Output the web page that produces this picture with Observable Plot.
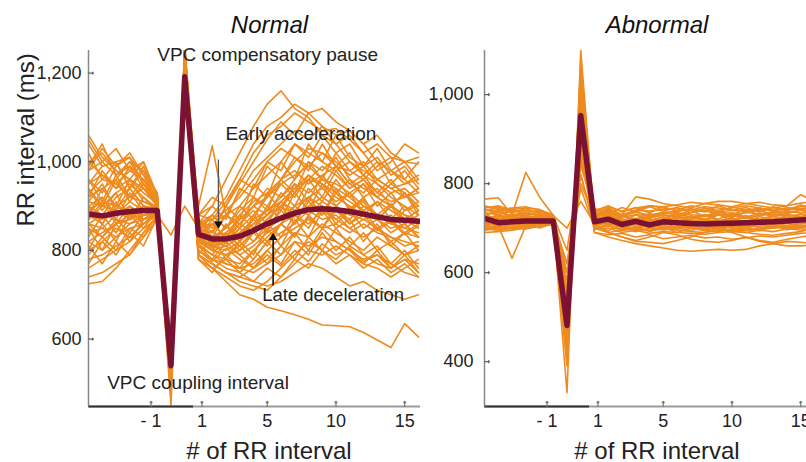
<!DOCTYPE html>
<html><head><meta charset="utf-8">
<script src="https://cdn.jsdelivr.net/npm/d3@7"></script>
<script src="https://cdn.jsdelivr.net/npm/@observablehq/plot@0.6"></script>
<style>
body{margin:0;background:#fff;}
#wrap{display:flex;width:806px;height:462px;overflow:hidden;}
</style></head><body><div id="wrap"></div>
<script>
// x position of each RR interval: 6 pre-VPC beats, VPC coupling, compensatory pause, 17 post beats
const beatIndex = [-7,-6,-5,-4,-3,-2,-1,0,1,2,3,4,5,6,7,8,9,10,11,12,13,14,15,16,17];
const tickPositions = [-2.45, 1.25, 6, 11, 16];
const tickLabels = ["- 1", "1", "5", "10", "15"];
const normalYTicks = [600, 800, 1000, 1200];
const abnormalYTicks = [400, 600, 800, 1000];

const normalMean = [882,878,884,888,890,890, 540, 1192, 836,826,826,832,845,860,873,884,892,894,892,888,882,876,870,868,866];
const abnormalMean = [722,712,714,716,716,716, 481, 953, 714,720,708,715,707,714,712,710,709,710,711,712,713,714,716,718,720];

const normalTraces = [
 [1060,1010,980,960,940,900, 520,1230, 880,900,960,1020,1080,1130,1160,1120,1100,1060,1040,1000,980,960,940,950,960],
 [980,1000,970,990,960,920, 560,1210, 860,880,920,980,1040,1080,1100,1130,1110,1120,1090,1070,1040,1000,980,960,1000],
 [950,990,1000,940,980,910, 540,1180, 850,840,880,930,980,1010,1040,1070,1050,1080,1060,1070,1040,1060,1020,1000,995],
 [900,920,880,910,890,870, 600,1150, 900,1036,880,860,840,870,900,940,960,990,970,940,960,930,910,920,940],
 [920,940,960,1000,980,930, 510,1260, 830,810,820,850,880,920,960,1000,1030,1020,990,980,960,990,1010,960,930],
 [880,860,900,920,910,895, 530,1200, 820,800,790,810,840,870,900,930,960,950,920,900,880,870,900,880,860],
 [860,880,870,860,880,890, 550,1190, 810,790,780,770,800,830,860,900,880,910,890,870,900,880,860,870,850],
 [840,850,830,860,870,885, 500,1220, 800,780,760,750,780,820,840,860,890,870,880,850,830,850,820,840,830],
 [820,800,830,850,860,880, 580,1170, 790,770,750,740,760,780,810,840,830,860,840,820,800,830,810,790,800],
 [760,780,800,820,850,870, 470,1240, 780,760,740,720,710,730,760,790,820,800,780,810,790,770,760,780,770],
 [725,730,760,800,840,880, 490,1210, 780,760,730,700,690,672,664,655,645,632,630,628,615,598,581,635,605],
 [1000,1020,980,960,1000,920, 530,1250, 870,850,900,950,1000,1050,1090,1060,1110,1080,1040,1060,1020,980,1000,1040,1020],
 [900,880,920,940,900,890, 520,1190, 840,820,830,860,900,940,920,960,1000,980,1010,960,940,920,950,930,900],
 [870,900,890,870,900,880, 560,1160, 830,810,800,820,850,880,910,890,920,940,910,930,900,880,860,890,900],
 [850,830,860,880,890,895, 540,1200, 820,800,790,800,820,850,870,900,920,900,870,890,910,870,880,850,870],
 [800,820,850,830,860,880, 510,1230, 800,780,770,760,770,800,830,850,870,850,860,840,860,840,830,810,820],
 [780,790,810,830,860,885, 450,1270, 790,770,750,730,720,710,740,770,800,790,810,790,770,760,740,760,780],
 [930,960,950,920,940,900, 570,1180, 850,860,880,900,940,970,1000,1040,1020,1000,980,1000,970,950,920,900,880],
 [960,930,990,1010,950,910, 500,1220, 860,870,890,920,960,1000,1030,1010,990,1020,1000,970,990,950,930,940,910],
 [890,910,900,880,870,890, 530,1200, 830,820,810,830,860,890,920,950,930,960,940,920,890,910,890,870,860],
 [880,870,890,880,880,880, 835,900, 850,830,820,840,860,880,900,880,900,920,900,880,870,880,860,850,840],
 [820,840,860,870,880,890, 560,1170, 810,790,770,760,750,770,790,820,810,830,820,800,780,790,770,750,740],
 [740,750,770,790,830,870, 520,1230, 790,770,750,740,730,720,730,750,770,760,740,720,730,710,700,690,700],
 [1040,990,1000,1010,970,930, 480,1260, 880,870,910,960,1020,1060,1080,1110,1090,1070,1075,1050,1020,1040,1010,1000,1010],
 [910,900,930,950,920,895, 550,1190, 840,830,850,880,910,930,960,980,950,970,990,950,930,960,940,920,930],
 [860,850,880,900,880,885, 590,1150, 820,800,810,790,810,840,860,880,860,890,870,850,870,850,830,820,810],
 [1000,970,950,980,960,910, 500,1240, 850,830,840,870,900,920,950,970,990,960,950,930,950,920,900,880,870],
 [950,970,940,960,930,905, 530,1210, 830,810,820,840,870,890,910,940,970,950,930,910,890,870,850,860,830],
 [1020,960,1000,940,990,920, 510,1240, 860,900,870,940,920,990,960,1010,980,1040,990,1020,970,1000,950,980,940],
 [880,940,900,960,910,900, 545,1200, 820,860,830,880,850,900,870,930,890,950,900,930,880,910,870,900,860],
 [940,890,930,870,920,885, 525,1215, 850,810,860,820,880,840,900,860,920,880,940,890,920,870,900,860,880],
 [800,860,820,880,850,890, 560,1180, 790,830,780,820,790,850,810,870,830,890,850,870,820,860,810,840,800],
 [990,1040,970,1000,950,915, 495,1255, 870,840,900,870,950,920,1000,960,1040,1000,1060,1010,990,1030,980,1000,960],
 [850,800,860,820,870,880, 575,1165, 810,780,820,790,760,800,770,820,790,840,800,830,790,810,770,800,760],
 [910,950,890,940,900,895, 535,1205, 830,870,820,860,890,860,910,880,940,910,960,920,950,900,930,890,910],
 [770,820,790,840,810,875, 505,1235, 780,750,790,760,800,770,810,780,830,800,850,810,840,800,820,790,810],
 [960,910,970,920,960,905, 545,1195, 840,880,850,900,870,930,890,950,910,970,930,960,920,940,900,930,890],
 [830,880,840,890,860,888, 520,1220, 815,790,830,800,840,810,860,830,880,850,900,860,890,850,870,840,860],
 [1050,1000,1030,980,1000,925, 490,1250, 880,920,900,960,940,1000,980,1040,1010,1060,1020,1040,990,1010,970,990,950],
 [870,910,860,900,870,885, 555,1185, 825,800,840,810,780,820,790,840,800,850,820,800,770,800,760,790,750],
 [900,860,910,870,900,892, 515,1225, 835,860,830,870,900,880,930,900,960,920,980,940,960,920,900,930,880],
 [810,770,820,790,840,878, 580,1160, 790,760,780,750,730,760,740,780,760,800,770,790,760,780,750,770,740],
 [980,1030,990,1020,970,912, 505,1245, 865,830,880,850,920,890,960,930,1000,960,1020,980,1000,960,980,950,970],
 [860,830,870,840,880,884, 540,1195, 820,845,815,850,820,860,830,880,850,900,860,890,850,870,840,860,830],
 [920,980,940,990,940,908, 530,1210, 845,815,855,830,870,845,890,860,910,880,930,895,915,880,905,870,890],
 [790,830,800,850,830,882, 565,1175, 800,775,805,780,760,790,765,800,775,815,790,805,775,790,760,780,750],
 [940,900,960,910,950,902, 520,1230, 848,880,850,890,920,900,950,920,970,940,990,950,970,930,960,920,940],
 [880,920,870,930,890,895, 500,1240, 828,805,835,810,845,820,860,835,875,850,890,860,880,845,865,835,855]
];

const abnormalTraces = [
 [740,745,720,725,720,715, 600,800, 725,740,730,770,765,755,750,745,755,760,760,755,750,745,750,775,760],
 [720,725,730,825,770,728, 650,850, 730,735,725,740,750,745,740,750,745,740,745,750,745,740,745,740,750],
 [710,705,632,705,712,715, 620,820, 700,705,695,700,710,705,700,695,700,705,700,695,700,705,700,695,700],
 [700,695,700,705,710,712, 560,880, 690,680,672,665,660,655,650,648,650,652,650,652,660,665,670,668,665],
 [705,700,710,705,715,720, 520,900, 700,690,680,672,680,690,685,675,670,668,672,680,670,665,660,660,662],
 [745,750,740,735,730,722, 450,1000, 725,730,720,715,725,730,725,735,740,730,725,735,740,730,735,740,735],
 [725,720,730,728,725,718, 400,1060, 720,725,715,720,715,720,730,725,720,730,735,725,720,728,730,725,740],
 [715,708,712,715,718,716, 330,1100, 712,718,705,712,705,712,710,708,706,708,710,712,710,712,715,718,722],
 [700,705,702,710,712,715, 480,950, 705,712,700,708,700,705,702,700,698,700,702,704,705,708,706,710,712],
 [735,730,738,740,735,720, 500,920, 735,745,730,740,738,742,745,740,748,745,740,738,745,740,742,748,752],
 [690,692,695,700,705,710, 440,980, 698,700,690,695,688,692,690,688,686,690,692,690,695,692,698,700,702],
 [710,715,708,712,720,718, 540,870, 715,722,710,718,710,715,718,715,712,715,718,716,718,720,722,720,725],
 [750,742,745,748,740,725, 580,840, 740,748,738,745,750,748,752,758,755,752,748,755,758,752,750,756,760],
 [695,700,698,702,708,712, 470,960, 690,685,688,680,685,676,680,684,678,680,675,678,682,680,684,688,690],
 [722,728,725,722,728,725, 420,1030, 728,732,725,730,728,732,735,730,728,732,730,735,732,736,738,734,738],
 [712,705,715,718,712,714, 510,930, 708,712,702,698,695,700,704,700,696,692,698,700,696,700,703,706,708],
 [765,768,730,735,740,730, 600,790, 700,690,680,670,668,665,672,680,690,700,690,680,672,668,675,680,685],
 [718,722,720,716,722,720, 460,1000, 720,728,716,722,716,720,722,718,714,716,720,722,718,720,724,722,728],
 [705,712,716,720,716,718, 560,860, 716,745,720,710,720,712,708,716,720,714,708,712,716,720,714,710,716],
 [730,735,728,732,730,722, 430,1040, 732,738,728,735,730,735,738,742,738,735,740,738,742,746,740,744,748],
 [698,695,700,698,704,708, 390,1070, 702,706,696,700,694,698,696,692,690,694,696,694,698,702,700,704,706],
 [740,738,742,745,742,728, 700,760, 710,690,695,700,705,708,712,710,706,700,695,690,686,684,688,692,700],
 [712,718,712,708,714,716, 620,820, 708,730,700,692,700,696,700,704,700,698,704,706,702,700,704,700,708],
 [726,720,724,726,720,719, 540,880, 722,718,726,720,724,730,726,722,726,730,728,724,728,732,728,730,734],
 [718,730,712,726,714,718, 490,940, 724,712,730,716,728,714,726,718,730,716,724,712,726,718,728,716,724],
 [732,716,728,712,724,717, 455,990, 712,728,714,730,716,726,712,728,716,730,718,728,714,726,716,732,720],
 [702,716,704,718,708,714, 525,910, 706,694,708,696,710,698,712,700,708,696,706,698,710,700,712,702,708],
 [744,730,742,728,738,724, 580,845, 738,750,736,746,734,748,738,744,736,750,740,746,736,748,740,752,744],
 [710,724,708,722,710,716, 415,1045, 718,706,720,708,722,710,718,706,720,710,722,708,718,712,720,714,722],
 [726,712,730,716,726,720, 475,965, 730,742,726,738,724,736,728,740,726,738,730,742,728,736,732,740,736],
 [694,706,698,710,700,710, 545,890, 696,708,694,704,692,702,690,700,694,704,692,700,694,706,696,702,700],
 [738,748,734,744,732,722, 505,925, 744,732,746,736,748,738,746,734,744,736,748,740,744,738,746,742,748],
 [716,706,720,710,718,716, 435,1010, 710,722,708,718,706,716,708,720,710,718,706,716,710,720,712,718,716],
 [728,740,724,736,726,721, 560,865, 726,716,730,720,732,722,734,724,730,720,732,724,734,726,730,724,732]
];

const ORANGE = "#ee8b1f", MAROON = "#7b1232";
const FONT = "'Liberation Sans', Arial, Helvetica, sans-serif";

function toRows(traces) {
  const rows = [];
  traces.forEach((t, i) => t.forEach((v, j) => rows.push({u: beatIndex[j], rr: v, id: i})));
  return rows;
}
const meanRows = m => m.map((v, j) => ({u: beatIndex[j], rr: v}));

function panel(cfg) {
  const xd = cfg.xDomain, yd = cfg.yDomain;
  const marks = [
    Plot.line(toRows(cfg.traces), {x: "u", y: "rr", z: "id", stroke: ORANGE, strokeWidth: 1.6, clip: true}),
    Plot.line(meanRows(cfg.mean), {x: "u", y: "rr", stroke: MAROON, strokeWidth: 5.5, strokeLinejoin: "round", clip: true}),
    // axis lines: full-width light baseline, darker first segment on top
    Plot.ruleY([yd[0]], {stroke: "#9c9c9c", strokeWidth: 1.8}),
    Plot.ruleX([xd[0]], {stroke: "#888", strokeWidth: 1.5}),
    Plot.link([0], {x1: () => xd[0], x2: () => 0.6, y1: () => yd[0], y2: () => yd[0], stroke: "#333", strokeWidth: 2}),
    // inward tick marks
    Plot.vector(tickPositions, {x: d => d, y: () => yd[0], length: 5, rotate: 0, anchor: "start", stroke: "#777", strokeWidth: 1.2}),
    Plot.vector(cfg.yTicks, {x: () => xd[0], y: d => d, length: 5, rotate: 90, anchor: "start", stroke: "#666", strokeWidth: 1.2}),
    Plot.axisY(cfg.yTicks, {label: null, tickSize: 0, tickPadding: cfg.yPad, tickFormat: d3.format(","), fontSize: 18}),
    Plot.axisX(tickPositions, {label: null, tickSize: 0, tickPadding: 8, tickFormat: d => tickLabels[tickPositions.indexOf(d)], fontSize: 18}),
    Plot.text([cfg.title], {text: d => d, frameAnchor: "top", dx: cfg.titleDx, dy: -18, lineAnchor: "bottom", fontSize: 24, fontStyle: "italic", fill: "#111"}),
    Plot.text(["# of RR interval"], {text: d => d, frameAnchor: "bottom", dx: cfg.xLabelDx, dy: 52, lineAnchor: "bottom", fontSize: 24, fill: "#222"})
  ];
  if (cfg.extra) marks.push(...cfg.extra);
  return Plot.plot({
    width: cfg.width, height: 462,
    marginLeft: cfg.marginLeft, marginRight: cfg.marginRight, marginTop: 50, marginBottom: 56,
    x: {domain: xd, label: null}, y: {domain: yd, label: null},
    style: {fontFamily: FONT, color: "#222", background: "white", overflow: "hidden"},
    marks
  });
}

const leftExtra = [
  Plot.text(["RR interval (ms)"], {text: d => d, frameAnchor: "left", dx: -55, dy: -2, rotate: -90, lineAnchor: "bottom", fontSize: 24, fill: "#222"}),
  Plot.text(["VPC compensatory pause"], {text: d => d, x: () => -2.0, y: () => 1227, textAnchor: "start", lineAnchor: "bottom", fontSize: 19, fill: "#222"}),
  Plot.text(["Early acceleration"], {text: d => d, x: () => 2.96, y: () => 1048, textAnchor: "start", lineAnchor: "bottom", fontSize: 19, fill: "#222"}),
  Plot.text(["Late deceleration"], {text: d => d, x: () => 5.63, y: () => 687, textAnchor: "start", lineAnchor: "bottom", fontSize: 18.5, fill: "#222"}),
  Plot.text(["VPC coupling interval"], {text: d => d, x: () => -5.64, y: () => 488, textAnchor: "start", lineAnchor: "bottom", fontSize: 19, fill: "#222"}),
  Plot.link([0], {x1: () => 2.45, y1: () => 1005, x2: () => 2.45, y2: () => 862, stroke: "#555", strokeWidth: 1.3}),
  Plot.dot([0], {x: () => 2.45, y: () => 860, symbol: "triangle2", r: 4, rotate: 180, fill: "#111", stroke: "none"}),
  Plot.link([0], {x1: () => 6.43, y1: () => 721, x2: () => 6.43, y2: () => 830, stroke: "#111", strokeWidth: 1.6}),
  Plot.dot([0], {x: () => 6.43, y: () => 829, symbol: "triangle2", r: 4, fill: "#111", stroke: "none"})
];

const left = panel({width: 422, marginLeft: 88, marginRight: 2, xDomain: [-7, 17.15], yDomain: [448, 1251],
  yTicks: normalYTicks, yPad: 7, traces: normalTraces, mean: normalMean, title: "Normal", titleDx: 15, xLabelDx: 14.5, extra: leftExtra});
const right = panel({width: 384, marginLeft: 62, marginRight: 0, xDomain: [-7, 16.42], yDomain: [299, 1099],
  yTicks: abnormalYTicks, yPad: 11, traces: abnormalTraces, mean: abnormalMean, title: "Abnormal", titleDx: 11.5, xLabelDx: 11.5});

document.getElementById("wrap").append(left, right);
</script></body></html>
